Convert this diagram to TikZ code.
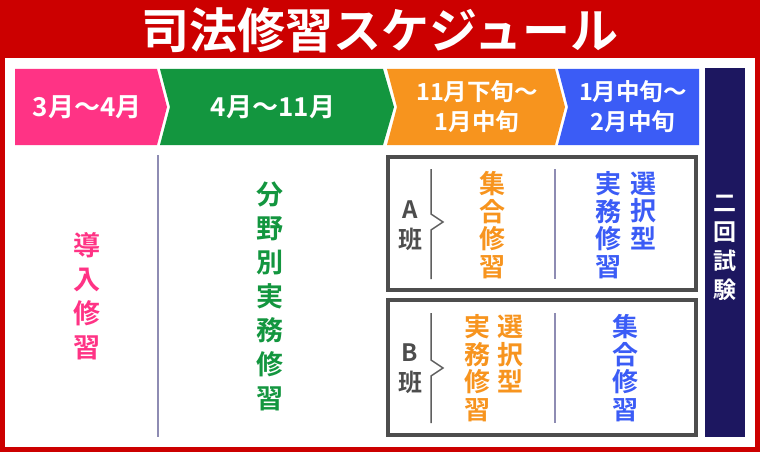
\documentclass[tikz,border=0pt]{standalone}
\usepackage{fontspec}
\setmainfont{Noto Sans CJK JP}[BoldFont={Noto Sans CJK JP Bold}]
\definecolor{bgred}{HTML}{CC0000}
\definecolor{cpink}{HTML}{FF3385}
\definecolor{cgreen}{HTML}{13963F}
\definecolor{corange}{HTML}{F7941E}
\definecolor{cblue}{HTML}{3B5CF6}
\definecolor{cnavy}{HTML}{1D1760}
\definecolor{cbox}{HTML}{4D4D4D}
\definecolor{cdiv}{HTML}{8E8CB3}
\tikzset{
  hdr/.style={text=white, align=center, inner sep=0pt, font=\fontsize{26}{30}\selectfont\bfseries},
  hdrtwo/.style={text=white, align=center, inner sep=0pt, font=\fontsize{23.5}{30}\selectfont\bfseries},
  vbody/.style={align=center, inner sep=0pt, font=\fontsize{27}{34}\selectfont\bfseries},
  vbox/.style={align=center, inner sep=0pt, font=\fontsize{26}{27.6}\selectfont\bfseries},
  grp/.style={text=cbox, inner sep=0pt, font=\fontsize{24}{28}\selectfont\bfseries},
  classbox/.style={draw=cbox, line width=4pt},
  divline/.style={draw=cdiv, line width=2pt},
  brk/.style={draw=cbox!90, line width=1.5pt, line join=miter},
}
\begin{document}
\begin{tikzpicture}[x=1pt,y=-1pt]
\useasboundingbox (0,0) rectangle (760,452);
\fill[bgred] (0,0) rectangle (760,452);
\fill[white] (5,58) rectangle (755,447);
\node[text=white, inner sep=0pt, font=\fontsize{48}{50}\selectfont\bfseries] (title) at (380,30) {司法修習スケジュール};
% header arrows
\fill[cpink] (15,69) -- (157,69) -- (167,107) -- (157,145) -- (15,145) -- cycle;
\fill[cgreen] (160,69) -- (383,69) -- (394,107) -- (383,145) -- (160,145) -- (170,107) -- cycle;
\fill[corange] (387,69) -- (555,69) -- (565,107) -- (555,145) -- (387,145) -- (397,107) -- cycle;
\fill[cblue] (558,69) -- (699,69) -- (699,145) -- (558,145) -- (568,107) -- cycle;
\fill[cnavy] (705,68) rectangle (745,437);
\node[hdr] (h1) at (87,107) {3月〜4月};
\node[hdr] (h2) at (273,107) {4月〜11月};
\node[hdrtwo] (h3) at (477,107) {11月下旬〜\\1月中旬};
\node[hdrtwo] (h4) at (633,107) {1月中旬〜\\2月中旬};
\node[text=white, align=center, inner sep=0pt, font=\fontsize{23}{29}\selectfont\bfseries] (exam) at (725,248) {二\\回\\試\\験};
% body left
\draw[divline] (158,155) -- (158,437);
\node[vbody, text=cpink] (intro) at (87,296) {導\\入\\修\\習};
\node[vbody, text=cgreen] (field) at (270,296) {分\\野\\別\\実\\務\\修\\習};
% class boxes
\draw[classbox] (388,157) rectangle (696,290);
\draw[classbox] (388,300) rectangle (696,435);
\node[grp] (aA) at (410,210) {A};
\node[grp] (aH) at (410,239) {班};
\node[grp] (bB) at (410,353) {B};
\node[grp] (bH) at (410,382) {班};
\draw[brk] (431,169) -- (431,214) -- (443,222) -- (431,230) -- (431,279);
\draw[brk] (431,313) -- (431,360) -- (443,368) -- (431,376) -- (431,423);
\draw[divline] (555,169) -- (555,279);
\draw[divline] (555,313) -- (555,423);
\node[vbox, text=corange] (a1) at (492,225) {集\\合\\修\\習};
\node[vbox, text=cblue] (a2) at (608,225) {実\\務\\修\\習};
\node[vbox, text=cblue] (a3) at (643,211) {選\\択\\型};
\node[vbox, text=corange] (b1) at (477,368) {実\\務\\修\\習};
\node[vbox, text=corange] (b2) at (510,354) {選\\択\\型};
\node[vbox, text=cblue] (b3) at (625,368) {集\\合\\修\\習};
\end{tikzpicture}
\end{document}
